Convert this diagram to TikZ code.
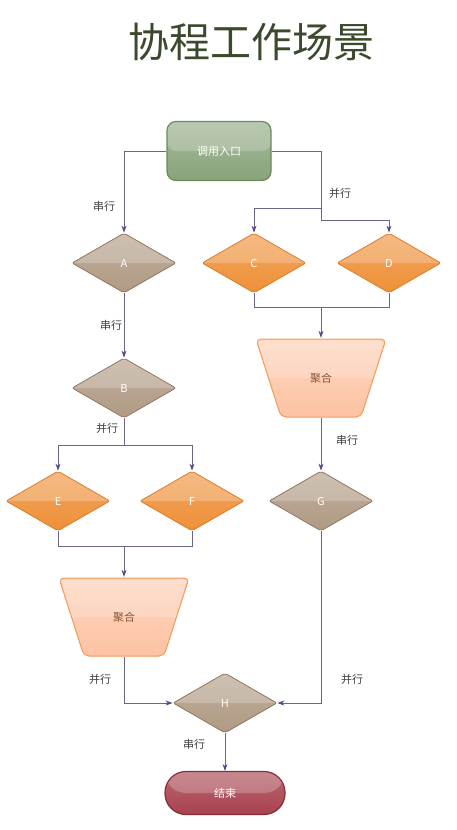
\documentclass[tikz,border=0pt]{standalone}
\usepackage{fontspec}
\setmainfont{Noto Sans CJK SC}
\usetikzlibrary{shapes.geometric,arrows.meta}

\definecolor{titlecol}{HTML}{3B4A2C}
\definecolor{flowline}{HTML}{6E6489}
\definecolor{tipcol}{HTML}{54478A}
\definecolor{startfill}{HTML}{89A37A}
\definecolor{startedge}{HTML}{6C8A5C}
\definecolor{taupefill}{HTML}{B09A84}
\definecolor{taupeedge}{HTML}{927760}
\definecolor{orangefill}{HTML}{EE9038}
\definecolor{orangeedge}{HTML}{D97F2E}
\definecolor{mergefill}{HTML}{FDC2A2}
\definecolor{mergeedge}{HTML}{F29A58}
\definecolor{mergetext}{HTML}{8A5432}
\definecolor{endfill}{HTML}{A8424F}
\definecolor{endedge}{HTML}{8A2C3A}

\tikzset{
  gloss/.style={path picture={\fill[white,opacity=0.22]
      (path picture bounding box.north west) rectangle (path picture bounding box.east);}},
  nodefont/.style={font=\fontsize{11}{13}\selectfont},
  startbox/.style={rectangle, rounded corners=9pt, draw=startedge, line width=1.2pt,
      top color=startfill!75!white, bottom color=startfill, gloss, nodefont, text=white,
      minimum width=104pt, minimum height=59pt},
  taupedia/.style={diamond, rounded corners=2pt, draw=taupeedge, line width=0.8pt,
      top color=taupefill!80!white, bottom color=taupefill, gloss, nodefont, text=white,
      inner sep=0pt, minimum width=104pt, minimum height=60pt},
  orangedia/.style={taupedia, draw=orangeedge,
      top color=orangefill!80!white, bottom color=orangefill},
  % trapezoid drawn inside an undrawn box
  mergebox/.style={rectangle, inner sep=0pt, minimum width=132pt, minimum height=80pt,
      nodefont, text=mergetext,
      path picture={
        \path[draw=mergeedge, line width=1pt, rounded corners=5pt,
              top color=mergefill!65!white, bottom color=mergefill]
          ([xshift=1pt,yshift=-1pt]path picture bounding box.north west)
          -- ([xshift=-1pt,yshift=-1pt]path picture bounding box.north east)
          -- ([xshift=-26pt,yshift=1pt]path picture bounding box.south east)
          -- ([xshift=26pt,yshift=1pt]path picture bounding box.south west) -- cycle;
        \fill[white,opacity=0.2]
          ([xshift=3pt,yshift=-3pt]path picture bounding box.north west)
          -- ([xshift=-3pt,yshift=-3pt]path picture bounding box.north east)
          -- ([xshift=-14pt]path picture bounding box.east)
          -- ([xshift=14pt]path picture bounding box.west) -- cycle;
      }},
  endbox/.style={rectangle, rounded corners=21pt, draw=endedge, line width=1.2pt,
      top color=endfill!80!white, bottom color=endfill, gloss, nodefont, text=white,
      minimum width=120pt, minimum height=43pt},
  flow/.style={draw=flowline, line width=0.8pt},
  flowarrow/.style={flow, -{Stealth[length=7pt,width=5pt,color=tipcol]}},
  flowlabel/.style={nodefont, text=black!75}
}

\begin{document}
\begin{tikzpicture}[x=1pt,y=-1pt]
        \useasboundingbox (0,0) rectangle (456,830);

        % Draw title
        \node[text=titlecol, font=\fontsize{41}{47}\selectfont] (title) at (251,42) {协程工作场景};

        % Draw nodes
        \node[startbox] (entry) at (219,151) {调用入口};
        \node[taupedia] (A) at (124,263) {A};
        \node[orangedia] (C) at (254,263) {C};
        \node[orangedia] (D) at (389,263) {D};
        \node[taupedia] (B) at (124,388) {B};
        \node[mergebox] (merge1) at (321,378) {聚合};
        \node[orangedia] (E) at (58,501) {E};
        \node[orangedia] (F) at (192,501) {F};
        \node[taupedia] (G) at (321,501) {G};
        \node[mergebox] (merge2) at (124,617) {聚合};
        \node[taupedia] (H) at (225,703) {H};
        \node[endbox] (finish) at (225,793) {结束};

        % Junction points
        \coordinate (forkCD) at (321,208);
        \coordinate (forkD) at (321,220);
        \coordinate (joinCD) at (321,307);
        \coordinate (forkEF) at (124,445);
        \coordinate (joinEF) at (124,546);

        % Draw connections
        \draw[flowarrow] (entry.west) -| (A.north);
        \draw[flow] (entry.east) -| (forkCD);
        \draw[flowarrow] (forkCD) -| (C.north);
        \draw[flow] (forkCD) -- (forkD);
        \draw[flowarrow] (forkD) -| (D.north);
        \draw[flow] (C.south) |- (joinCD);
        \draw[flow] (D.south) |- (joinCD);
        \draw[flowarrow] (joinCD) -- (merge1.north);
        \draw[flowarrow] (merge1.south) -- (G.north);
        \draw[flowarrow] (A.south) -- (B.north);
        \draw[flow] (B.south) -- (forkEF);
        \draw[flowarrow] (forkEF) -| (E.north);
        \draw[flowarrow] (forkEF) -| (F.north);
        \draw[flow] (E.south) |- (joinEF);
        \draw[flow] (F.south) |- (joinEF);
        \draw[flowarrow] (joinEF) -- (merge2.north);
        \draw[flowarrow] (merge2.south) |- (H.west);
        \draw[flowarrow] (G.south) |- (H.east);
        \draw[flowarrow] (H.south) -- (finish.north);

        % Draw labels
        \node[flowlabel] (lab1) at (104,206) {串行};
        \node[flowlabel] (lab2) at (340,193) {并行};
        \node[flowlabel] (lab3) at (111,325) {串行};
        \node[flowlabel] (lab4) at (107,428) {并行};
        \node[flowlabel] (lab5) at (347,440) {串行};
        \node[flowlabel] (lab6) at (100,679) {并行};
        \node[flowlabel] (lab7) at (352,679) {并行};
        \node[flowlabel] (lab8) at (194,744) {串行};
    \end{tikzpicture}
\end{document}
